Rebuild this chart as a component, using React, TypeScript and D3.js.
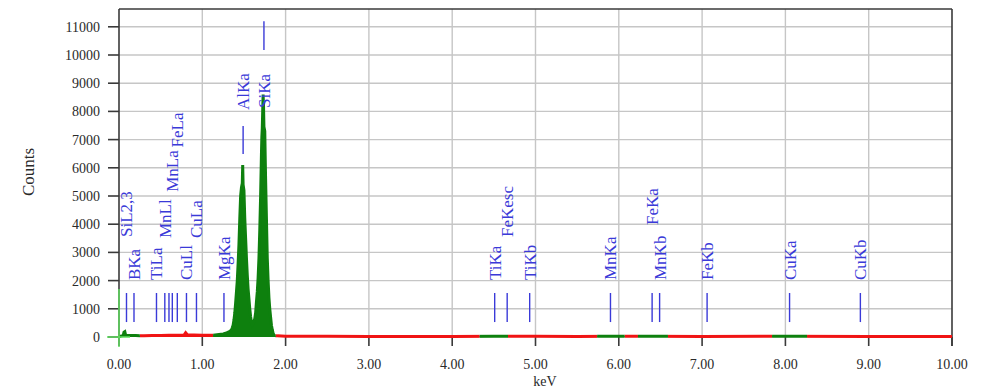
import React from "react";
import * as d3 from "d3";

// ---------- data ----------
const xTicks = [0, 1, 2, 3, 4, 5, 6, 7, 8, 9, 10];
const yTicks = [0, 1000, 2000, 3000, 4000, 5000, 6000, 7000, 8000, 9000, 10000, 11000];

const specKeV = [
  0.0, 0.02, 0.05, 0.06, 0.07, 0.08, 0.1, 0.15, 0.2, 0.25, 0.3, 0.4, 0.5, 0.6, 0.7, 0.78, 0.8, 0.82, 0.9, 1.0,
  1.1, 1.13, 1.2, 1.25, 1.28, 1.3, 1.33, 1.35, 1.36, 1.37, 1.38, 1.39, 1.4, 1.41, 1.42, 1.43, 1.44, 1.45, 1.46,
  1.47, 1.48, 1.485, 1.49, 1.5, 1.51, 1.52, 1.53, 1.54, 1.55, 1.56, 1.57, 1.58, 1.59, 1.6, 1.61, 1.62, 1.63,
  1.64, 1.65, 1.66, 1.67, 1.68, 1.69, 1.7, 1.71, 1.715, 1.72, 1.725, 1.73, 1.735, 1.74, 1.75, 1.755, 1.76, 1.77,
  1.78, 1.79, 1.8, 1.81, 1.82, 1.83, 1.84, 1.85, 1.86, 1.87, 1.9, 2.0, 2.5, 3.0, 3.5, 4.0, 4.5, 5.0, 5.5, 5.9,
  6.4, 7.0, 8.0, 9.0, 10.0,
];
const specCounts = [
  0, 30, 50, 170, 190, 60, 50, 55, 50, 45, 40, 50, 55, 65, 60, 70, 150, 80, 75, 65,
  60, 65, 90, 110, 130, 160, 200, 250, 330, 420, 600, 850, 1200, 1600, 2000, 2600, 3300, 4200, 5000,
  5300, 5450, 6100, 5400, 5200, 4200, 3500, 2800, 2200, 1700, 1350, 1000, 720, 520, 430, 480, 560, 650,
  850, 1250, 1600, 2100, 2800, 3800, 5000, 6500, 7100, 7400, 8000, 8600, 8200, 7450, 7300, 6400, 5600, 4200,
  2800, 2000, 1400, 1000, 700, 420, 260, 130, 70, 50, 40, 30, 25, 20, 20, 20, 30, 25, 20, 25,
  30, 20, 25, 20, 20,
];

const roiStart = [0.0, 1.13, 4.33, 5.74, 6.23, 7.84];
const roiEnd = [0.25, 1.88, 4.67, 6.07, 6.59, 8.26];

const markerNames = [
  "SiL2,3", "BKa", "TiLa", "MnLl", "FeLl", "MnLa", "FeLa", "CuLl", "CuLa", "MgKa", "AlKa", "SiKa",
  "TiKa", "FeKesc", "TiKb", "MnKa", "FeKa", "MnKb", "FeKb", "CuKa", "CuKb",
];
const markerKeV = [
  0.09, 0.18, 0.45, 0.55, 0.6, 0.64, 0.7, 0.81, 0.93, 1.26, 1.49, 1.74,
  4.51, 4.66, 4.93, 5.9, 6.4, 6.49, 7.06, 8.05, 8.9,
];
const markerLow = [
  530, 530, 530, 530, 530, 530, 530, 530, 530, 530, 6490, 10180,
  530, 530, 530, 530, 530, 530, 530, 530, 530,
];
const markerHigh = [
  1560, 1560, 1560, 1560, 1560, 1560, 1560, 1560, 1560, 1560, 7480, 11200,
  1560, 1560, 1560, 1560, 1560, 1560, 1560, 1560, 1560,
];
// count level where each label text begins (null = label hidden)
const markerLabelAt: (number | null)[] = [
  3546, 2021, 2021, 3510, null, 5150, 6720, 2021, 3510, 2021, 8050, 8120,
  2021, 3546, 2021, 2021, 3972, 2021, 2021, 2021, 2021,
];

export default function App() {
  const W = 981;
  const H = 391;
  const left = 119;
  const right = 952;
  const top = 9;
  const zero = 337;

  const x = d3.scaleLinear().domain([0, 10]).range([left, right]);
  const y = d3.scaleLinear().domain([0, 11000]).range([zero, 26.8]);

  const pts: [number, number][] = specKeV.map((k, i) => [k, specCounts[i]]);
  const areaPath = d3
    .area<[number, number]>()
    .x((d) => x(d[0]))
    .y0(y(0))
    .y1((d) => y(d[1]))(pts) as string;
  const linePath = d3
    .line<[number, number]>()
    .x((d) => x(d[0]))
    .y((d) => y(d[1]))(pts) as string;

  // complement of the ROI ranges (drawn red)
  const outStart: number[] = [-1];
  const outEnd: number[] = [];
  roiStart.forEach((s, i) => {
    outEnd.push(s);
    outStart.push(roiEnd[i]);
  });
  outEnd.push(11);

  const gridColor = "#c6c6c6";
  const axisColor = "#3a3a3a";
  const blue = "#3a3ad8";
  const red = "#f01414";
  const green = "#0e800e";
  const serif = "'Liberation Serif', 'Times New Roman', serif";

  return (
    <>
      <style>{`body{margin:0;background:#fff}`}</style>
      <svg width={W} height={H} style={{ display: "block" }} xmlns="http://www.w3.org/2000/svg">
        <rect x={0} y={0} width={W} height={H} fill="#ffffff" />
        <defs>
          <clipPath id="roiClip">
            {roiStart.map((s, i) => (
              <rect key={i} x={x(s)} y={0} width={x(roiEnd[i]) - x(s)} height={H} />
            ))}
          </clipPath>
          <clipPath id="outClip">
            {outStart.map((s, i) => (
              <rect key={i} x={x(s)} y={0} width={x(outEnd[i]) - x(s)} height={H} />
            ))}
          </clipPath>
        </defs>

        {/* grid */}
        {yTicks.filter((t) => t > 0).map((t) => (
          <line key={"gy" + t} x1={left} x2={right} y1={y(t)} y2={y(t)} stroke={gridColor} strokeWidth={1.4} />
        ))}
        {xTicks.filter((t) => t > 0 && t < 10).map((t) => (
          <line key={"gx" + t} x1={x(t)} x2={x(t)} y1={top} y2={zero} stroke={gridColor} strokeWidth={1.4} />
        ))}

        {/* frame */}
        <line x1={left} x2={right} y1={top} y2={top} stroke={axisColor} strokeWidth={1.6} />
        <line x1={right} x2={right} y1={top} y2={zero + 9} stroke={axisColor} strokeWidth={1.6} />
        <line x1={left} x2={left} y1={top} y2={zero} stroke={axisColor} strokeWidth={1.6} />

        {/* y ticks */}
        {yTicks.map((t) => (
          <g key={"yt" + t}>
            <line x1={left - 11} x2={left} y1={y(t)} y2={y(t)} stroke={axisColor} strokeWidth={1.6} />
            <text
              x={left - 19}
              y={y(t)}
              dy="0.35em"
              textAnchor="end"
              fontFamily={serif}
              fontSize={14}
              fill="#2a2a2a"
            >
              {t}
            </text>
          </g>
        ))}

        {/* x ticks */}
        {xTicks.map((t) => (
          <g key={"xt" + t}>
            <line x1={x(t)} x2={x(t)} y1={zero} y2={zero + 9} stroke={axisColor} strokeWidth={1.6} />
            <text
              x={x(t)}
              y={zero + 32}
              textAnchor="middle"
              fontFamily={serif}
              fontSize={14}
              fill="#2a2a2a"
            >
              {t.toFixed(2)}
            </text>
          </g>
        ))}

        {/* spectrum: red outside ROIs, green inside */}
        <g clipPath="url(#outClip)">
          <path d={areaPath} fill={red} />
          <path d={linePath} fill="none" stroke={red} strokeWidth={3} />
        </g>
        <g clipPath="url(#roiClip)">
          <path d={areaPath} fill={green} />
          <path d={linePath} fill="none" stroke={green} strokeWidth={3} />
        </g>

        {/* cursor */}
        <line x1={x(0)} x2={x(0)} y1={y(1700)} y2={zero + 10} stroke="#5fe05f" strokeWidth={1.5} />
        <line x1={left - 12} x2={left + 11} y1={zero} y2={zero} stroke="#5fe05f" strokeWidth={1.5} />

        {/* element markers */}
        {markerNames.map((n, i) => {
          const mx = x(markerKeV[i]);
          const la = markerLabelAt[i];
          return (
            <g key={"m" + i}>
              <line
                x1={mx}
                x2={mx}
                y1={y(markerLow[i])}
                y2={y(markerHigh[i])}
                stroke={blue}
                strokeWidth={1.4}
              />
              {la !== null && (
                <text
                  transform={`translate(${mx + 6},${y(la)}) rotate(-90)`}
                  fontFamily={serif}
                  fontSize={17}
                  fill={blue}
                >
                  {n}
                </text>
              )}
            </g>
          );
        })}

        {/* axis titles */}
        <text
          transform={`translate(34,${172}) rotate(-90)`}
          textAnchor="middle"
          fontFamily={serif}
          fontSize={17}
          fill="#2a2a2a"
        >
          Counts
        </text>
        <text x={545} y={386} textAnchor="middle" fontFamily={serif} fontSize={14} fill="#2a2a2a">
          keV
        </text>
      </svg>
    </>
  );
}
